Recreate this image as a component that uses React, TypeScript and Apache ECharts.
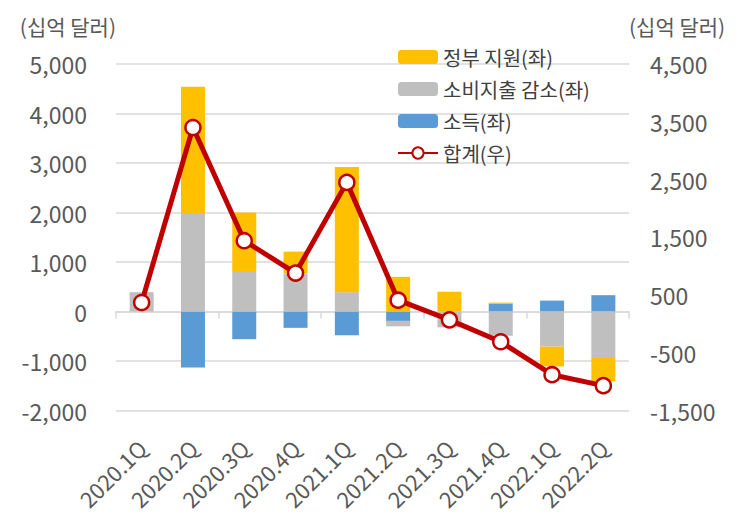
import React, { useEffect, useRef } from "react";
import * as echarts from "echarts";

const categories = ["2020.1Q", "2020.2Q", "2020.3Q", "2020.4Q", "2021.1Q", "2021.2Q", "2021.3Q", "2021.4Q", "2022.1Q", "2022.2Q"];
const income = [0, -1130, -560, -330, -480, -190, 0, 160, 220, 330];
const consumption = [390, 1970, 820, 770, 390, -110, -320, -490, -710, -940];
const government = [0, 2570, 1180, 440, 2530, 700, 400, 20, -400, -470];
const total = [370, 3400, 1440, 880, 2450, 410, 70, -310, -880, -1070];

const FONT = "'Noto Sans CJK KR', 'Noto Sans', sans-serif";
const TXT = "#595959";
const GRID = "#d9d9d9";

const fmt = (v: number) => v.toLocaleString("en-US");

export default function App() {
  const ref = useRef<HTMLDivElement>(null);
  useEffect(() => {
    if (!ref.current) return;
    const chart = echarts.init(ref.current, undefined, { renderer: "svg" });
    chart.setOption({
      animation: false,
      textStyle: { fontFamily: FONT },
      grid: { left: 108, right: 100, top: 56, bottom: 110.5 },
      legend: {
        orient: "vertical",
        left: 384,
        top: 33,
        itemWidth: 40,
        itemHeight: 14,
        itemGap: 10,
        data: ["정부 지원(좌)", "소비지출 감소(좌)", "소득(좌)", "합계(우)"],
        textStyle: { fontSize: 20, color: "#404040", fontFamily: FONT, lineHeight: 22 },
      },
      xAxis: [
        {
          type: "category",
          data: categories,
          position: "bottom",
          axisLine: { onZero: true, lineStyle: { color: GRID, width: 1.5 } },
          axisTick: { show: true, length: 7, lineStyle: { color: GRID, width: 1.5 } },
          axisLabel: { show: false },
        },
        {
          type: "category",
          data: categories,
          position: "bottom",
          axisLine: { show: false, onZero: false },
          axisTick: { show: false },
          axisLabel: { rotate: 45, margin: 33, fontSize: 22, color: TXT, fontFamily: FONT },
        },
      ],
      yAxis: [
        {
          type: "value",
          min: -2000,
          max: 5000,
          interval: 1000,
          name: "(십억 달러)",
          nameLocation: "end",
          nameGap: 28,
          nameTextStyle: { align: "right", fontSize: 21, color: TXT, fontFamily: FONT },
          axisLine: { show: false },
          axisTick: { show: false },
          splitLine: { lineStyle: { color: GRID, width: 1.5 } },
          axisLabel: { margin: 29, fontSize: 23, color: TXT, fontFamily: FONT, formatter: fmt },
        },
        {
          type: "value",
          min: -1500,
          max: 4500,
          interval: 1000,
          position: "right",
          name: "(십억 달러)",
          nameLocation: "end",
          nameGap: 28,
          nameTextStyle: { align: "left", fontSize: 21, color: TXT, fontFamily: FONT },
          axisLine: { show: false },
          axisTick: { show: false },
          splitLine: { show: false },
          axisLabel: { margin: 21, fontSize: 23, color: TXT, fontFamily: FONT, formatter: fmt },
        },
      ],
      series: [
        {
          name: "소득(좌)",
          type: "bar",
          stack: "s",
          barWidth: 24,
          xAxisIndex: 0,
          yAxisIndex: 0,
          itemStyle: { color: "#5B9BD5" },
          data: income,
        },
        {
          name: "소비지출 감소(좌)",
          type: "bar",
          stack: "s",
          barWidth: 24,
          xAxisIndex: 0,
          yAxisIndex: 0,
          itemStyle: { color: "#BFBFBF" },
          data: consumption,
        },
        {
          name: "정부 지원(좌)",
          type: "bar",
          stack: "s",
          barWidth: 24,
          xAxisIndex: 0,
          yAxisIndex: 0,
          itemStyle: { color: "#FFC000" },
          data: government,
        },
        {
          name: "합계(우)",
          type: "line",
          xAxisIndex: 0,
          yAxisIndex: 1,
          symbol: "circle",
          symbolSize: 15,
          lineStyle: { color: "#C00000", width: 5 },
          itemStyle: { color: "#ffffff", borderColor: "#C00000", borderWidth: 2.5 },
          z: 5,
          data: total,
        },
      ],
    });
    return () => chart.dispose();
  }, []);
  return <div ref={ref} style={{ width: 721, height: 513 }} />;
}
